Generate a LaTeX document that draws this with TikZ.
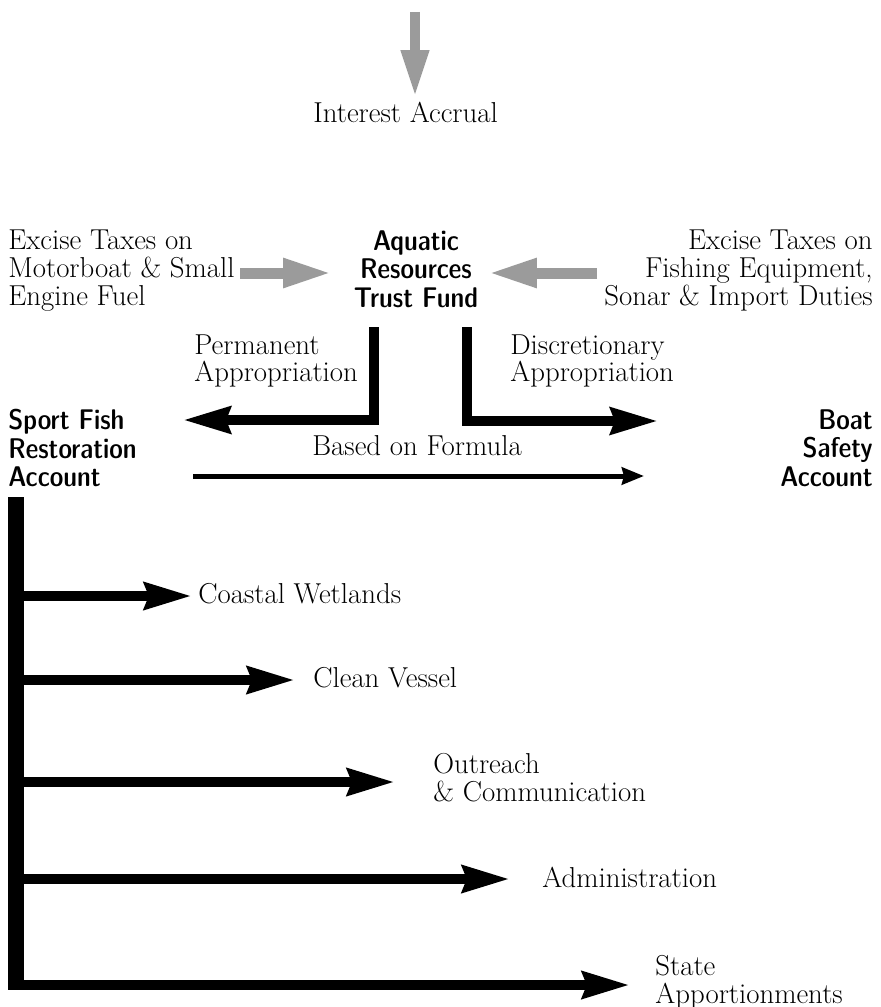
\documentclass[tikz,border=0pt]{standalone}
\usepackage{fontspec}
\newfontfamily\headfont{lmsansdemicond10-regular.otf}
\usetikzlibrary{arrows.meta}

\definecolor{flowgrey}{RGB}{155,155,155}
\newcommand\bodytext{\fontsize{16.4}{15.7}\selectfont\lineskiplimit=-6pt\relax}
\newcommand\accttext{\headfont\fontsize{16.2}{16.2}\selectfont\lineskiplimit=-6pt\relax}

\tikzset{
  txt/.style={font=\bodytext, inner sep=0pt},
  acct/.style={font=\accttext, inner sep=0pt},
  greyflow/.style={draw=flowgrey, line width=0.22cm,
    -{Triangle[length=0.98cm, width=0.54cm]}},
  approp/.style={line width=0.2cm,
    -{Stealth[length=0.94cm, width=0.52cm, inset=0.08cm]}},
  branch/.style={line width=0.21cm,
    -{Stealth[length=0.94cm, width=0.52cm, inset=0.08cm]}},
  formula/.style={line width=0.1cm,
    -{Stealth[length=0.44cm, width=0.34cm, inset=0.04cm]}}
}

\begin{document}
\begin{tikzpicture}[x=0.02cm, y=-0.02cm]
\useasboundingbox (0,0) rectangle (881,1007);

% sources and the fund
\node[txt, anchor=base west] (interest) at (313,123) {Interest Accrual};
\node[txt, anchor=north west, align=left] (motor) at (8,230)
  {Excise Taxes on\\Motorboat \& Small\\Engine Fuel};
\node[txt, anchor=north east, align=right] (fishing) at (873,230)
  {Excise Taxes on\\Fishing Equipment,\\Sonar \& Import Duties};
\node[acct, anchor=north, align=center] (fund) at (416,230)
  {Aquatic\\Resources\\Trust Fund};

% accounts
\node[acct, anchor=north west, align=left] (sportfish) at (8,409)
  {Sport Fish\\Restoration\\Account};
\node[acct, anchor=north east, align=right] (boat) at (873,409)
  {Boat\\Safety\\Account};
\node[txt, anchor=north west, align=left] (permanent) at (194,334)
  {Permanent\\Appropriation};
\node[txt, anchor=north west, align=left] (discretionary) at (510,334)
  {Discretionary\\Appropriation};
\node[txt, anchor=base west] (based) at (312,455) {Based on Formula};

% programs
\node[txt, anchor=base west] (coastal) at (198,603) {Coastal Wetlands};
\node[txt, anchor=base west] (vessel) at (313,687) {Clean Vessel};
\node[txt, anchor=north west, align=left] (outreach) at (433,753)
  {Outreach\\\& Communication};
\node[txt, anchor=base west] (admin) at (542,887) {Administration};
\node[txt, anchor=north west, align=left] (state) at (655,955)
  {State\\Apportionments};

% arrow ends
\coordinate (accrual in) at (415,12);
\coordinate (accrual out) at (415,97);
\coordinate (motor out) at (240,273);
\coordinate (motor in) at (332,273);
\coordinate (fishing out) at (597,273);
\coordinate (fishing in) at (488,273);
\coordinate (perm top) at (374,327);
\coordinate (perm tip) at (183,420);
\coordinate (disc top) at (467,327);
\coordinate (disc tip) at (658,421);
\coordinate (formula start) at (193,476);
\coordinate (formula tip) at (644,476);
\coordinate (bar top) at (16,497);
\coordinate (bar foot) at (16,990);
\coordinate (coastal tip) at (192,596);
\coordinate (vessel tip) at (295,680);
\coordinate (outreach tip) at (395,782);
\coordinate (admin tip) at (510,879);
\coordinate (state tip) at (630,985);

% grey inflows
\draw[greyflow, line width=0.2cm, -{Triangle[length=0.94cm, width=0.52cm]}]
  (accrual in) -- (accrual out);
\draw[greyflow] (motor out) -- (motor in);
\draw[greyflow] (fishing out) -- (fishing in);

% appropriations
\draw[approp] (perm top) |- (perm tip);
\draw[approp] (disc top) |- (disc tip);
\draw[formula] (formula start) -- (formula tip);

% sport fish distribution
\draw[line width=0.32cm] (bar top) -- (bar foot);
\foreach \prog in {coastal, vessel, outreach, admin, state}
  \draw[branch] (bar top |- \prog\space tip) -- (\prog\space tip);

\end{tikzpicture}
\end{document}
